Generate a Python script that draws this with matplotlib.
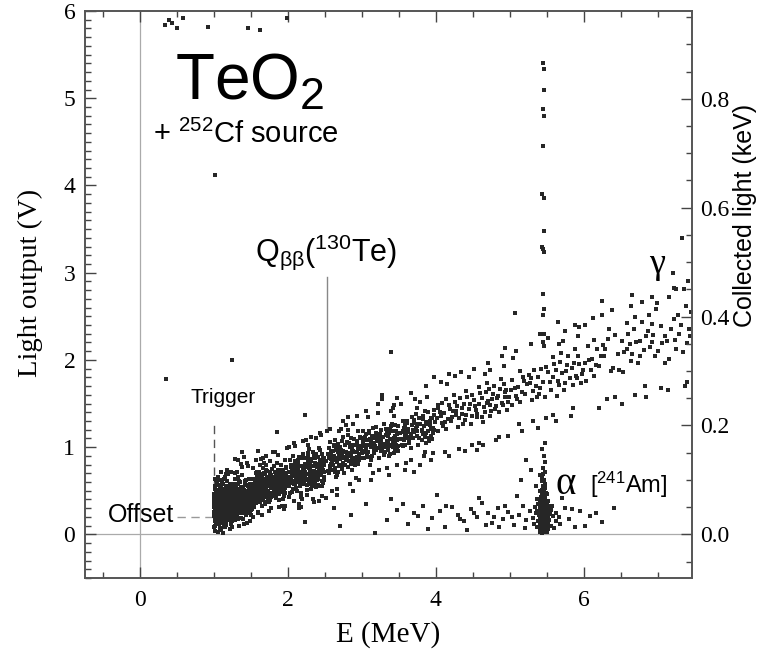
import matplotlib
matplotlib.use('Agg')
import matplotlib.pyplot as plt
from matplotlib.ticker import MultipleLocator, FormatStrFormatter

plt.rcParams['font.family'] = 'Liberation Serif'
plt.rcParams['mathtext.fontset'] = 'custom'
plt.rcParams['mathtext.rm'] = 'Liberation Sans'
plt.rcParams['mathtext.it'] = 'Liberation Sans:italic'
plt.rcParams['mathtext.bf'] = 'Liberation Sans:bold'

SANS = 'Liberation Sans'
SERIF = 'Liberation Serif'

# events: (energy in MeV, light output in V)
# gamma/beta band, 1.00-1.25 MeV
band_a = [
    (1.013,.27),(1.187,.41),(1.062,.18),(1.231,.35),(1.004,.46),(1.145,.29),(1.098,.53),(1.209,.22),(1.036,.38),(1.171,.47),
    (1.118,.13),(1.247,.44),(1.051,.31),(1.192,.26),(1.079,.42),(1.008,.09),(1.163,.37),(1.224,.58),(1.041,.24),(1.137,.50),
    (1.087,.33),(1.215,.16),(1.022,.55),(1.156,.20),(1.109,.39),(1.238,.31),(1.067,.45),(1.181,.61),(1.029,.14),(1.126,.34),
    (1.095,.23),(1.203,.40),(1.046,.36),(1.168,.11),(1.015,.32),(1.241,.49),(1.074,.28),(1.152,.43),(1.113,.19),(1.196,.30),
    (1.057,.51),(1.229,.25),(1.002,.21),(1.142,.38),(1.084,.07),(1.218,.36),(1.033,.43),(1.176,.27),(1.121,.48),(1.064,.34),
    (1.249,.21),(1.011,.40),(1.159,.56),(1.103,.26),(1.186,.17),(1.047,.30),(1.233,.41),(1.071,.22),(1.134,.31),(1.026,.62),
    (1.199,.45),(1.092,.35),(1.166,.24),(1.018,.15),(1.211,.29),(1.055,.40),(1.148,.66),(1.116,.36),(1.237,.12),(1.082,.47),
    (1.039,.28),(1.174,.39),(1.006,.34),(1.222,.52),(1.129,.21),(1.061,.57),(1.193,.33),(1.101,.05),(1.244,.37),(1.049,.19),
    (1.154,.31),(1.089,.26),(1.227,.44),(1.031,.50),(1.178,.36),(1.115,.41),(1.069,.12),(1.205,.27),(1.021,.38),(1.139,.23),
    (1.097,.44),(1.183,.50),(1.043,.33),(1.246,.29),(1.124,.58),(1.077,.37),(1.162,.18),(1.009,.26),(1.213,.34),(1.058,.23),
    (1.132,.46),(1.191,.39),(1.024,.30),(1.107,.32),(1.234,.19),(1.086,.54),(1.169,.30),(1.044,.47),(1.219,.40),(1.149,.14),
    (1.066,.36),(1.001,.43),(1.197,.22),(1.121,.28),(1.242,.55),(1.035,.20),(1.158,.42),(1.094,.30),(1.208,.48),(1.073,.25),
    (1.016,.52),(1.185,.35),(1.131,.40),(1.052,.27),(1.226,.33),(1.112,.60),(1.171,.13),(1.028,.36),(1.201,.26),(1.081,.16),
    (1.147,.34),(1.239,.43),(1.063,.48),(1.104,.45),(1.017,.04),(1.189,.69),(1.135,.08),(1.231,.72),(1.054,.66),(1.216,.06),
]

# 1.00-1.50 MeV, second pass over the dense corner
band_a2 = [
    (1.007,.31),(1.342,.52),(1.121,.24),(1.468,.39),(1.059,.46),(1.283,.17),(1.196,.35),(1.417,.61),(1.034,.12),(1.251,.43),
    (1.389,.28),(1.102,.57),(1.473,.48),(1.168,.33),(1.316,.36),(1.012,.19),(1.227,.50),(1.441,.22),(1.083,.40),(1.362,.44),
    (1.145,.09),(1.492,.55),(1.046,.37),(1.268,.29),(1.403,.33),(1.179,.53),(1.021,.27),(1.331,.66),(1.115,.44),(1.459,.30),
    (1.239,.38),(1.071,.16),(1.376,.24),(1.156,.42),(1.484,.37),(1.038,.58),(1.297,.34),(1.211,.20),(1.432,.47),(1.093,.31),
    (1.355,.39),(1.003,.38),(1.184,.45),(1.262,.58),(1.449,.13),(1.127,.36),(1.311,.27),(1.064,.24),(1.395,.53),(1.221,.31),
    (1.479,.43),(1.139,.63),(1.027,.45),(1.283,.40),(1.418,.36),(1.174,.26),(1.346,.31),(1.091,.49),(1.245,.15),(1.464,.56),
    (1.052,.20),(1.323,.47),(1.198,.38),(1.386,.41),(1.015,.54),(1.274,.23),(1.142,.50),(1.437,.27),(1.078,.29),(1.359,.60),
    (1.231,.46),(1.496,.33),(1.109,.14),(1.302,.44),(1.042,.41),(1.167,.47),(1.411,.50),(1.257,.35),(1.086,.62),(1.333,.19),
    (1.189,.28),(1.453,.40),(1.019,.10),(1.278,.53),(1.135,.32),(1.371,.35),(1.061,.51),(1.216,.42),(1.487,.25),(1.151,.39),
    (1.307,.58),(1.032,.23),(1.425,.45),(1.118,.52),(1.264,.28),(1.399,.18),(1.075,.33),(1.351,.49),(1.203,.55),(1.468,.31),
    (1.011,.63),(1.291,.70),(1.176,.74),(1.382,.77),(1.099,.06),(1.247,.08),(1.446,.82),(1.058,.03),(1.327,.85),(1.162,.69),
]

# 1.25-1.55 MeV
band_b = [
    (1.263,.43),(1.412,.31),(1.327,.52),(1.538,.40),(1.289,.26),(1.451,.57),(1.356,.38),(1.497,.22),(1.271,.47),(1.389,.34),
    (1.524,.49),(1.302,.29),(1.437,.44),(1.341,.61),(1.476,.36),(1.258,.33),(1.405,.51),(1.369,.19),(1.513,.42),(1.294,.55),
    (1.428,.27),(1.318,.40),(1.462,.48),(1.379,.30),(1.544,.35),(1.283,.64),(1.397,.45),(1.335,.24),(1.489,.58),(1.255,.38),
    (1.419,.37),(1.348,.47),(1.506,.28),(1.311,.35),(1.443,.41),(1.372,.54),(1.531,.46),(1.276,.21),(1.468,.33),(1.392,.43),
    (1.323,.58),(1.485,.46),(1.266,.30),(1.434,.62),(1.359,.33),(1.518,.55),(1.297,.41),(1.401,.26),(1.546,.31),(1.331,.45),
    (1.457,.39),(1.384,.68),(1.274,.51),(1.425,.47),(1.307,.23),(1.493,.40),(1.363,.42),(1.528,.63),(1.286,.36),(1.448,.30),
    (1.344,.37),(1.472,.53),(1.262,.57),(1.409,.40),(1.376,.26),(1.511,.37),(1.315,.49),(1.439,.35),(1.299,.31),(1.481,.28),
    (1.352,.50),(1.536,.44),(1.279,.42),(1.417,.58),(1.328,.18),(1.466,.45),(1.394,.37),(1.502,.52),(1.261,.25),(1.431,.43),
    (1.367,.46),(1.541,.57),(1.306,.44),(1.454,.25),(1.339,.40),(1.487,.35),(1.281,.48),(1.403,.34),(1.357,.60),(1.522,.38),
    (1.292,.39),(1.446,.50),(1.381,.32),(1.515,.29),(1.321,.34),(1.474,.63),(1.269,.40),(1.423,.41),(1.349,.29),(1.498,.47),
    (1.312,.72),(1.459,.78),(1.373,.81),(1.534,.76),(1.285,.86),(1.406,.12),(1.337,.10),(1.491,.15),(1.413,.89),(1.527,.20),
]

# 1.55-2.00 MeV
band_c = [
    (1.563,.55),(1.782,.48),(1.641,.67),(1.924,.59),(1.597,.41),(1.853,.71),(1.708,.52),(1.987,.63),(1.574,.36),(1.739,.60),
    (1.891,.49),(1.622,.57),(1.816,.78),(1.679,.45),(1.958,.70),(1.551,.62),(1.764,.39),(1.603,.50),(1.872,.58),(1.717,.66),
    (1.944,.44),(1.586,.58),(1.829,.53),(1.653,.33),(1.975,.76),(1.746,.55),(1.611,.72),(1.898,.62),(1.689,.59),(1.838,.42),
    (1.568,.47),(1.774,.68),(1.932,.51),(1.628,.43),(1.865,.64),(1.701,.37),(1.993,.56),(1.579,.66),(1.751,.47),(1.908,.80),
    (1.664,.54),(1.806,.60),(1.559,.39),(1.725,.73),(1.951,.62),(1.636,.61),(1.882,.46),(1.693,.69),(1.847,.55),(1.592,.53),
    (1.769,.43),(1.917,.67),(1.671,.48),(1.821,.71),(1.555,.57),(1.733,.50),(1.966,.47),(1.618,.37),(1.859,.59),(1.712,.62),
    (1.939,.72),(1.583,.44),(1.794,.57),(1.647,.65),(1.876,.39),(1.683,.51),(1.998,.66),(1.571,.70),(1.758,.64),(1.902,.54),
    (1.659,.40),(1.812,.49),(1.607,.60),(1.868,.74),(1.729,.44),(1.947,.57),(1.588,.63),(1.787,.75),(1.632,.49),(1.894,.66),
    (1.696,.57),(1.834,.64),(1.564,.49),(1.743,.58),(1.981,.60),(1.614,.46),(1.861,.51),(1.705,.79),(1.928,.49),(1.649,.59),
    (1.778,.53),(1.577,.61),(1.843,.67),(1.686,.62),(1.961,.53),(1.625,.52),(1.887,.57),(1.719,.49),(1.913,.63),(1.562,.44),
    (1.755,.69),(1.668,.64),(1.825,.46),(1.599,.67),(1.971,.69),(1.737,.41),(1.851,.61),(1.644,.55),(1.905,.71),(1.674,.50),
    (1.799,.62),(1.553,.52),(1.722,.56),(1.936,.58),(1.615,.64),(1.879,.53),(1.691,.43),(1.817,.66),(1.581,.59),(1.954,.65),
    (1.639,.86),(1.871,.91),(1.596,.24),(1.748,.27),(1.918,.33),(1.702,.90),(1.984,.99),(1.657,.22),(1.803,.94),(1.566,.85),
    (1.762,.84),(1.887,.31),(1.619,.80),(1.942,.29),(1.678,.82),
]

# 1.5-2.5 MeV, second pass
band_c2 = [
    (1.521,.46),(1.893,.70),(2.214,.58),(1.647,.39),(2.381,.92),(1.768,.63),(2.057,.49),(1.582,.72),(2.446,.68),(1.934,.41),
    (2.139,.85),(1.711,.53),(2.296,.66),(1.604,.57),(1.857,.82),(2.468,.55),(2.012,.64),(1.679,.70),(2.253,.45),(1.541,.33),
    (1.978,.77),(2.347,.73),(1.742,.37),(2.103,.69),(1.626,.48),(2.419,.81),(1.815,.56),(2.181,.43),(1.569,.64),(1.951,.52),
    (2.276,.89),(1.693,.61),(2.037,.79),(2.492,.62),(1.789,.44),(1.532,.54),(2.164,.62),(1.881,.65),(2.318,.52),(1.663,.76),
    (2.084,.58),(2.427,.99),(1.731,.49),(1.964,.85),(2.236,.71),(1.593,.47),(2.362,.61),(1.838,.72),(2.129,.50),(1.615,.63),
    (2.007,.56),(2.473,.87),(1.756,.71),(2.192,.78),(1.907,.61),(1.547,.58),(2.304,.80),(1.687,.35),(2.068,.72),(2.411,.57),
    (1.826,.52),(2.152,.66),(1.573,.41),(2.269,.62),(1.942,.66),(1.716,.58),(2.456,.74),(2.021,.43),(1.637,.69),(2.227,.87),
    (1.866,.47),(2.374,.69),(1.599,.61),(2.116,.77),(1.779,.66),(2.489,.71),(1.994,.60),(1.554,.49),(2.331,.56),(1.704,.74),
    (2.046,.66),(1.849,.60),(2.283,.76),(1.621,.53),(2.398,.65),(1.915,.74),(2.171,.57),(1.738,.45),(2.462,.78),(1.587,.67),
    (2.244,1.08),(1.826,.95),(2.097,1.01),(1.667,.88),(2.357,.37),(1.958,.32),(2.183,.31),(1.594,.26),(2.434,1.16),(1.773,.30),
]

# 2.0-2.5 MeV
band_d = [
    (2.013,.71),(2.287,.58),(2.142,.83),(2.461,.76),(2.074,.52),(2.358,.91),(2.196,.67),(2.423,.69),(2.031,.63),(2.249,.79),
    (2.397,.62),(2.108,.74),(2.312,.86),(2.168,.55),(2.487,.88),(2.055,.80),(2.226,.64),(2.441,.97),(2.089,.61),(2.374,.72),
    (2.151,.68),(2.276,.93),(2.492,.66),(2.022,.56),(2.338,.78),(2.189,.87),(2.416,.73),(2.061,.69),(2.263,.51),(2.452,.83),
    (2.121,.60),(2.349,.66),(2.204,.76),(2.477,.59),(2.043,.77),(2.295,.71),(2.176,.48),(2.433,.85),(2.097,.84),(2.321,.60),
    (2.238,.81),(2.468,.71),(2.034,.47),(2.366,.88),(2.134,.72),(2.407,.63),(2.212,.59),(2.067,.90),(2.303,.75),(2.459,.92),
    (2.158,.64),(2.385,.54),(2.019,.66),(2.271,.84),(2.113,.53),(2.436,.77),(2.245,.69),(2.081,.75),(2.343,.95),(2.194,.62),
    (2.484,.79),(2.048,.72),(2.329,.65),(2.163,.78),(2.402,.89),(2.257,.57),(2.026,.85),(2.446,.68),(2.127,.67),(2.371,.80),
    (2.219,.73),(2.093,.58),(2.292,.98),(2.473,.74),(2.147,.89),(2.354,.59),(2.041,.62),(2.233,.66),(2.419,.56),(2.181,.71),
    (2.311,.84),(2.058,.74),(2.494,.84),(2.137,.76),(2.264,.63),(2.389,.77),(2.071,.67),(2.201,.92),(2.455,.61),(2.328,.70),
    (2.104,.81),(2.281,.69),(2.429,.79),(2.172,.60),(2.037,.59),(2.361,.82),(2.243,.77),(2.482,.65),(2.116,.63),(2.304,.74),
    (2.012,1.00),(2.209,1.07),(2.381,1.11),(2.146,.35),(2.334,.41),(2.467,.44),(2.077,.38),(2.268,1.03),(2.443,1.14),(2.186,.40),
]

# 2.5-3.0 MeV
band_e = [
    (2.513,.84),(2.786,.95),(2.641,.72),(2.934,1.03),(2.572,.91),(2.857,.81),(2.703,1.00),(2.981,.88),(2.536,.73),(2.749,.87),
    (2.893,1.09),(2.618,.85),(2.812,.77),(2.677,.94),(2.955,.92),(2.551,.99),(2.764,.70),(2.603,.79),(2.872,.98),(2.728,.91),
    (2.947,.81),(2.586,.86),(2.829,1.05),(2.659,.68),(2.975,1.12),(2.742,.82),(2.611,.96),(2.898,.86),(2.689,.78),(2.838,.93),
    (2.568,.77),(2.774,1.02),(2.932,.89),(2.628,.90),(2.865,.74),(2.701,.86),(2.993,.98),(2.579,.94),(2.751,.96),(2.908,.79),
    (2.664,.83),(2.806,.89),(2.559,.70),(2.725,1.07),(2.951,1.01),(2.636,.76),(2.882,.96),(2.693,.89),(2.847,1.10),(2.592,.82),
    (2.769,.80),(2.917,.94),(2.671,1.04),(2.821,.84),(2.555,.88),(2.733,.75),(2.966,.85),(2.618,1.01),(2.859,.90),(2.712,.97),
    (2.939,1.07),(2.583,.74),(2.794,.92),(2.647,.87),(2.876,1.03),(2.683,.71),(2.998,.93),(2.571,1.06),(2.758,.88),(2.902,.83),
    (2.654,.97),(2.812,1.14),(2.607,.80),(2.868,.87),(2.729,.93),(2.947,.99),(2.588,.89),(2.787,.85),(2.632,1.08),(2.894,.95),
    (2.528,1.18),(2.716,1.21),(2.885,1.27),(2.663,.52),(2.841,.58),(2.961,.62),(2.597,.50),(2.779,1.25),(2.923,.65),(2.694,1.19),
]

# 2.5-4.0 MeV, second pass
band_e2 = [
    (2.541,.92),(3.127,1.06),(3.688,1.18),(2.873,.84),(3.412,1.27),(3.956,1.22),(2.662,.99),(3.261,.96),(3.823,1.32),(2.985,1.10),
    (3.537,1.09),(2.718,.79),(3.349,1.13),(3.902,1.07),(2.604,.87),(3.186,1.15),(3.741,1.24),(2.936,.95),(3.478,.99),(2.797,1.06),
    (3.063,.91),(3.614,1.30),(2.567,.78),(3.299,1.04),(3.866,1.16),(2.841,1.00),(3.386,1.21),(3.979,1.37),(2.689,.93),(3.217,1.09),
    (3.773,1.10),(2.912,.88),(3.445,1.04),(2.628,1.03),(3.158,.98),(3.702,1.28),(2.769,.89),(3.324,1.00),(3.917,1.30),(2.993,1.01),
    (3.567,1.17),(2.745,1.12),(3.096,1.16),(3.651,1.12),(2.584,.81),(3.241,1.12),(3.809,1.19),(2.857,.92),(3.493,1.24),(3.034,.96),
    (3.589,1.03),(2.953,1.18),(3.371,.90),(3.937,1.13),(2.651,.66),(3.116,.80),(3.744,1.45),(2.808,1.20),(3.429,1.36),(3.855,.95),
]

# 3.0-3.5 MeV
band_f = [
    (3.013,1.01),(3.287,1.12),(3.142,.90),(3.461,1.19),(3.074,1.08),(3.358,.97),(3.196,1.16),(3.423,1.06),(3.031,.87),(3.249,1.04),
    (3.397,1.24),(3.108,1.02),(3.312,.94),(3.168,1.10),(3.487,1.01),(3.055,1.15),(3.226,.88),(3.441,1.13),(3.089,.95),(3.374,1.09),
    (3.151,1.22),(3.276,1.03),(3.492,.96),(3.022,1.06),(3.338,1.17),(3.189,.97),(3.416,1.00),(3.061,.99),(3.263,1.20),(3.452,1.25),
    (3.121,.85),(3.349,1.05),(3.204,1.07),(3.477,1.15),(3.043,1.12),(3.295,.91),(3.176,1.01),(3.433,.93),(3.097,1.19),(3.321,1.14),
    (3.238,.99),(3.468,1.08),(3.034,.94),(3.366,1.01),(3.134,1.13),(3.407,1.18),(3.212,1.11),(3.067,1.03),(3.303,1.27),(3.459,1.02),
    (3.158,1.05),(3.385,.92),(3.019,1.18),(3.271,.98),(3.113,1.09),(3.436,1.10),(3.245,1.15),(3.081,.89),(3.343,1.07),(3.194,1.23),
    (3.484,1.09),(3.048,1.03),(3.329,1.21),(3.163,.93),(3.402,1.03),(3.257,1.08),(3.026,1.10),(3.446,.98),(3.127,1.00),(3.371,1.16),
    (3.078,1.35),(3.216,1.39),(3.392,1.42),(3.146,.70),(3.334,.76),(3.471,.80),(3.231,.74),(3.418,1.45),
]

# 3.5-4.0 MeV
band_g = [
    (3.513,1.16),(3.786,1.26),(3.641,1.05),(3.934,1.33),(3.572,1.22),(3.857,1.12),(3.703,1.31),(3.981,1.20),(3.536,1.03),(3.749,1.19),
    (3.893,1.40),(3.618,1.17),(3.812,1.08),(3.677,1.25),(3.955,1.16),(3.551,1.30),(3.764,1.02),(3.603,1.11),(3.872,1.29),(3.728,1.22),
    (3.947,1.09),(3.586,1.14),(3.829,1.36),(3.659,.99),(3.975,1.43),(3.742,1.13),(3.611,1.28),(3.898,1.18),(3.689,1.10),(3.838,1.24),
    (3.568,1.08),(3.774,1.33),(3.932,1.21),(3.628,1.21),(3.865,1.05),(3.701,1.17),(3.993,1.29),(3.579,1.25),(3.751,1.27),(3.908,1.11),
    (3.664,1.15),(3.806,1.20),(3.559,1.01),(3.725,1.38),(3.951,1.33),(3.636,1.07),(3.882,1.27),(3.693,1.20),(3.847,1.41),(3.592,1.13),
    (3.769,1.11),(3.917,1.25),(3.671,1.35),(3.821,1.15),(3.555,1.19),
    (3.528,1.50),(3.716,1.55),(3.885,1.58),(3.663,.85),(3.841,.90),(3.961,.93),(3.597,.82),(3.779,1.52),
]

# 4.0-5.0 MeV
band_h = [
    (4.013,1.33),(4.587,1.49),(4.142,1.21),(4.861,1.67),(4.274,1.42),(4.758,1.55),(4.396,1.31),(4.923,1.72),(4.031,1.19),(4.649,1.46),
    (4.493,1.60),(4.108,1.39),(4.812,1.47),(4.368,1.27),(4.987,1.58),(4.255,1.52),(4.726,1.36),(4.441,1.44),(4.089,1.28),(4.674,1.63),
    (4.551,1.35),(4.176,1.48),(4.892,1.51),(4.322,1.56),(4.638,1.29),(4.029,1.45),(4.789,1.70),(4.411,1.37),(4.961,1.43),(4.203,1.30),
    (4.517,1.54),(4.857,1.40),(4.137,1.55),(4.703,1.53),(4.296,1.23),(4.579,1.69),(4.064,1.36),(4.937,1.63),(4.382,1.49),(4.751,1.42),
    (4.226,1.41),(4.618,1.56),(4.472,1.27),(4.029,1.48),(4.835,1.59),(4.349,1.38),(4.695,1.74),(4.161,1.32),(4.906,1.48),(4.538,1.43),
    (4.283,1.47),(4.777,1.61),(4.426,1.58),(4.094,1.24),(4.663,1.40),(4.973,1.52),(4.311,1.33),(4.601,1.62),(4.189,1.44),(4.879,1.78),
    (4.457,1.50),(4.052,1.40),(4.736,1.48),(4.243,1.60),(4.561,1.38),(4.824,1.56),(4.121,1.29),(4.359,1.45),(4.686,1.51),(4.954,1.66),
    (4.487,1.36),(4.216,1.35),(4.802,1.44),(4.078,1.51),(4.627,1.34),(4.403,1.64),(4.929,1.58),(4.266,1.37),(4.713,1.67),(4.526,1.47),
    (4.156,1.72),(4.442,1.80),(4.733,1.88),(4.918,1.93),(4.306,.98),(4.587,1.05),(4.847,1.12),(4.121,.94),(4.669,1.84),(4.492,1.03),
]

# 5.0-6.0 MeV
band_i = [
    (5.013,1.66),(5.587,1.80),(5.142,1.52),(5.861,1.96),(5.274,1.73),(5.758,1.87),(5.396,1.61),(5.923,2.05),(5.031,1.48),(5.649,1.76),
    (5.493,1.92),(5.108,1.69),(5.812,1.79),(5.368,1.58),(5.987,1.88),(5.255,1.83),(5.726,1.66),(5.441,1.75),(5.089,1.59),(5.674,1.98),
    (5.551,1.65),(5.176,1.80),(5.892,1.82),(5.322,1.88),(5.638,1.59),(5.029,1.77),(5.789,2.04),(5.411,1.68),(5.961,1.74),(5.203,1.61),
    (5.517,1.86),(5.857,1.71),(5.137,1.87),(5.703,1.85),(5.296,1.54),(5.579,2.03),(5.064,1.68),(5.937,1.95),(5.382,1.81),(5.751,1.73),
    (5.226,1.72),(5.618,1.88),(5.472,1.58),(5.835,1.91),(5.349,1.70),(5.695,2.08),(5.161,1.63),(5.906,1.79),(5.538,1.75),(5.283,1.79),
    (5.777,1.94),(5.426,1.90),(5.094,1.55),(5.663,1.71),(5.973,1.84),(5.311,1.64),(5.601,1.95),(5.189,1.76),(5.879,2.12),
    (5.043,2.02),(5.457,2.16),(5.713,2.22),(5.918,2.27),(5.306,1.30),(5.587,1.37),(5.847,1.45),(5.121,1.26),(5.669,2.18),(5.492,1.33),
]

# 6.0-7.45 MeV
band_j = [
    (6.013,1.97),(6.587,2.12),(6.142,1.82),(6.861,2.33),(6.274,2.05),(6.758,2.22),(6.396,1.91),(6.923,2.41),(6.031,1.76),(6.649,2.07),
    (7.093,2.28),(6.108,2.01),(6.812,2.11),(6.368,1.87),(7.287,2.30),(6.255,2.17),(6.726,1.96),(7.441,2.55),(6.089,1.89),(6.674,2.36),
    (7.151,2.01),(6.176,2.13),(6.892,2.15),(6.322,2.24),(7.338,2.09),(6.529,1.86),(6.789,2.43),(7.211,2.47),(6.961,2.05),(6.203,1.93),
    (6.517,2.22),(7.057,2.19),(6.137,2.23),(6.703,2.21),(7.396,2.19),(6.579,2.42),(6.064,2.00),(6.937,2.29),(7.182,2.35),(6.751,2.04),
    (6.226,2.05),(7.418,2.36),(6.472,1.88),(6.835,2.27),(7.249,2.13),(6.695,2.49),(6.161,1.94),(7.006,2.10),(6.538,2.09),(7.376,2.62),
    (6.283,2.13),(6.977,2.58),(7.126,2.22),(6.426,2.29),(6.634,1.99),(7.313,2.40),(6.051,2.16),(6.601,2.30),(7.041,2.39),(6.879,2.51),
    (6.457,2.07),(7.227,2.23),(6.344,2.36),(7.432,2.28),(6.618,2.18),(7.102,1.97),(6.917,2.20),(7.268,2.51),
    (6.243,2.52),(6.786,2.66),(7.156,2.72),(7.357,2.81),(6.306,1.55),(6.687,1.60),(7.047,1.68),(6.421,1.58),(7.392,1.75),(6.821,1.70),
]

# outer edges of the band, 2-7.45 MeV
band_tails = [
    (2.08,1.05),(2.31,1.12),(2.57,1.21),(2.74,1.30),(2.93,1.36),(2.15,.30),(2.42,.38),(2.66,.45),(2.88,.50),(2.51,.42),
    (3.05,1.42),(3.22,1.50),(3.48,1.56),(3.66,1.62),(3.87,1.70),(3.12,.62),(3.36,.68),(3.58,.74),(3.79,.80),(3.93,.85),
    (3.44,1.48),(3.71,.72),
    (4.07,1.75),(4.26,1.82),(4.52,1.90),(4.71,1.97),(4.89,2.04),(4.18,.90),(4.39,.96),(4.63,1.02),(4.81,1.08),(4.97,1.13),
    (4.34,1.86),(4.56,.97),
    (5.08,2.10),(5.29,2.18),(5.52,2.25),(5.74,2.33),(5.93,2.38),(5.17,1.18),(5.38,1.22),(5.62,1.30),(5.83,1.36),(5.41,2.30),
    (6.12,2.48),(6.38,2.57),(6.63,2.62),(6.92,2.72),(7.22,2.83),(7.41,2.90),(6.21,1.45),(6.52,1.50),(6.84,1.58),(7.13,1.66),
    (7.36,1.70),
]

# 241Am alpha peak
alpha_peak = [
    (5.41,.03),(5.44,.02),(5.47,.04),(5.50,.03),(5.43,.06),(5.46,.05),(5.49,.07),(5.42,.09),(5.45,.08),(5.48,.10),
    (5.51,.06),(5.40,.05),(5.44,.11),(5.47,.09),(5.52,.09),(5.39,.08),
    (5.40,.12),(5.43,.13),(5.46,.12),(5.49,.14),(5.52,.13),(5.41,.16),(5.44,.15),(5.47,.17),(5.50,.16),(5.42,.19),
    (5.45,.18),(5.48,.20),(5.51,.19),(5.38,.15),(5.53,.17),(5.46,.14),(5.43,.17),(5.49,.11),
    (5.39,.22),(5.42,.21),(5.45,.23),(5.48,.22),(5.51,.24),(5.40,.26),(5.43,.25),(5.46,.27),(5.49,.26),(5.52,.28),
    (5.41,.29),(5.44,.30),(5.47,.29),(5.50,.31),(5.37,.27),(5.54,.23),(5.45,.20),(5.48,.25),
    (5.40,.32),(5.43,.33),(5.46,.32),(5.49,.34),(5.42,.36),(5.45,.37),(5.48,.36),(5.51,.38),(5.41,.39),(5.44,.40),
    (5.47,.39),(5.50,.35),(5.38,.35),(5.53,.33),(5.46,.42),
    (5.42,.43),(5.45,.45),(5.48,.44),(5.43,.47),(5.46,.49),(5.49,.48),(5.44,.51),(5.47,.53),(5.41,.50),(5.50,.46),
    (5.45,.56),(5.48,.58),
    (5.46,.62),(5.44,.66),(5.47,.71),(5.45,.76),(5.48,.83),(5.46,.90),(5.44,.98),(5.47,1.05),(5.45,.69),(5.43,.61),
    (5.33,.12),(5.35,.24),(5.36,.08),(5.34,.31),(5.56,.10),(5.58,.21),(5.57,.33),(5.60,.07),(5.55,.28),(5.31,.19),
    (5.62,.15),(5.37,.40),
    (5.42,.04),(5.45,.06),(5.48,.05),(5.41,.10),(5.44,.09),(5.47,.12),(5.50,.12),(5.43,.15),(5.46,.16),(5.49,.18),
    (5.41,.21),(5.44,.22),(5.47,.24),(5.50,.21),(5.42,.27),(5.45,.28),(5.48,.30),(5.43,.31),(5.46,.35),(5.49,.31),
    (5.42,.34),(5.45,.39),(5.48,.41),(5.44,.44),(5.47,.46),(5.45,.50),(5.46,.03),(5.43,.08),(5.49,.08),(5.51,.10),
]

# low-light events below the band
low_events = [
    (2.23,.14),(2.62,.30),(2.85,.22),(3.05,.35),(3.18,.02),(3.34,.17),(3.48,.28),(3.62,.12),(3.70,.25),(3.83,.33),
    (3.95,.19),(4.05,.27),(4.12,.09),(4.22,.31),(4.30,.22),(4.38,.15),(4.47,.29),(4.55,.20),(4.62,.36),(4.70,.24),
    (4.76,.13),(4.84,.30),(4.90,.18),(4.97,.26),(5.05,.11),(5.12,.22),(5.18,.33),(5.22,.16),(5.27,.27),(5.62,.24),
    (5.68,.12),(5.74,.30),(5.80,.18),(5.88,.08),(5.95,.27),(6.08,.21),(6.25,.14),(3.40,.40),(4.02,.45),(4.58,.42),
    (5.10,.44),(4.42,.05),(3.90,.06),(5.70,.42),(2.70,.10),(6.40,.30),(4.85,.08),
    (5.15,.62),(5.28,.74),(5.35,.55),(5.22,.85),(5.40,.68),
    (4.33,.18),(4.51,.25),(4.68,.11),(4.93,.33),(5.03,.20),(5.21,.07),(4.14,.33),(3.76,.21),(5.66,.20),(5.84,.29),
    (6.02,.10),(6.16,.25),(3.55,.35),(4.79,.20),
]

# vertical streak at the alpha energy
alpha_line = [
    (5.45,5.40),(5.46,5.33),(5.46,5.09),(5.45,4.88),(5.46,4.80),(5.45,4.45),(5.44,3.90),(5.46,3.86),(5.46,3.48),
    (5.44,3.30),(5.45,3.27),(5.46,3.24),(5.45,2.76),(5.46,2.58),(5.45,2.51),(5.46,2.30),(5.45,2.20),
]

# isolated events
strays = [
    (0.34,5.84),(0.40,5.90),(0.44,5.86),(0.50,5.80),(0.58,5.92),(0.92,5.82),(1.46,5.80),(1.63,5.78),(1.99,5.92),
    (1.01,4.12),(0.36,1.78),(1.24,2.00),(1.38,0.95),(1.60,0.96),(1.86,1.17),(2.23,1.37),(2.81,1.34),(3.27,1.60),
    (3.27,1.55),(3.39,2.09),(3.97,1.81),(4.18,1.84),(4.93,2.14),(5.07,2.54),(5.65,2.44),(5.88,2.40),(6.01,2.40),
    (6.24,2.68),(6.65,2.74),(6.99,2.65),(7.20,3.00),(7.32,3.40),(7.24,2.81),(1.12,0.02),(1.10,0.72),
]

trigger_e = 1.0      # MeV
offset_v = 0.2       # V
q_value = 2.527      # MeV, 130Te
kev_per_volt = 0.1602

fig = plt.figure(figsize=(7.75, 6.52), dpi=100)
ax = fig.add_axes([0.1097, 0.1135, 0.7832, 0.8696])
ax.set_xlim(-0.74, 7.46)
ax.set_ylim(-0.5, 6.0)

ax.axvline(0, color='#aaaaaa', lw=0.9, zorder=1)
ax.axhline(0, color='#aaaaaa', lw=0.9, zorder=1)

all_sets = [band_a, band_a2, band_b, band_c, band_c2, band_d, band_e, band_e2, band_f, band_g,
            band_h, band_i, band_j, band_tails, alpha_peak, low_events, alpha_line, strays]
for pts in all_sets:
    xs, ys = zip(*pts)
    ax.scatter(xs, ys, s=5.2, marker='s', c='#262626', linewidths=0, zorder=3)

# trigger threshold, baseline offset and Q-value markers
ax.plot([trigger_e, trigger_e], [offset_v, 1.3], color='#555555', lw=1.0, dashes=(6, 4), zorder=2)
ax.plot([0.5, trigger_e], [offset_v, offset_v], color='#999999', lw=1.0, dashes=(6, 4), zorder=2)
ax.plot([q_value, q_value], [1.2, 2.95], color='#888888', lw=1.0, zorder=2)

ax.text(0.47, 4.98, 'TeO$_2$', family=SANS, fontsize=46, ha='left', va='baseline')
ax.text(0.18, 4.58, '+ $^{252}$Cf source', family=SANS, fontsize=21, ha='left', va='center')
ax.text(0.68, 1.51, 'Trigger', family=SANS, fontsize=15, ha='left', va='baseline')
ax.text(0.47, 0.22, 'Offset', family=SANS, fontsize=18, ha='right', va='center')
ax.text(1.55, 3.13, r'Q$_{\mathrm{ββ}}$($^{130}$Te)', family=SANS, fontsize=22, ha='left', va='baseline')
ax.text(6.99, 3.09, 'γ', family=SERIF, fontsize=26, ha='center', va='center')
ax.text(5.61, 0.57, 'α', family=SERIF, fontsize=28, ha='left', va='center')
ax.text(6.08, 0.57, '[$^{241}$Am]', family=SANS, fontsize=17, ha='left', va='center')

ax.set_xticks([0, 2, 4, 6])
ax.xaxis.set_minor_locator(MultipleLocator(0.5))
ax.set_yticks([0, 1, 2, 3, 4, 5, 6])
ax.yaxis.set_minor_locator(MultipleLocator(0.1))
ax.tick_params(which='both', direction='in', top=True, right=False, labelsize=17,
               color='#444444', width=1.0)
ax.tick_params(which='major', length=8)
ax.tick_params(which='minor', length=4.3)
ax.tick_params(axis='x', pad=9)
ax.tick_params(axis='y', pad=7)

ax2 = ax.twinx()
ax2.set_ylim(-0.5 * kev_per_volt, 6.0 * kev_per_volt)
ax2.set_yticks([0.0, 0.2, 0.4, 0.6, 0.8])
ax2.yaxis.set_major_formatter(FormatStrFormatter('%.1f'))
ax2.yaxis.set_minor_locator(MultipleLocator(0.05))
ax2.tick_params(which='both', direction='in', labelsize=17, color='#444444', width=1.0, pad=6)
ax2.tick_params(which='major', length=8)
ax2.tick_params(which='minor', length=4.3)

for a in (ax, ax2):
    for s in a.spines.values():
        s.set_color('#555555')
        s.set_linewidth(1.2)

fig.text(30 / 775, 1 - 283 / 652, 'Light output (V)', rotation=90, ha='center', va='center',
         fontsize=20.5, family=SERIF)
fig.text(388 / 775, 1 - 635 / 652, 'E (MeV)', ha='center', va='center', fontsize=21, family=SERIF)
fig.text(745 / 775, 1 - 215 / 652, 'Collected light (keV)', rotation=90, ha='center', va='center',
         fontsize=18, family=SANS)

fig.savefig('out.png', dpi=100)
